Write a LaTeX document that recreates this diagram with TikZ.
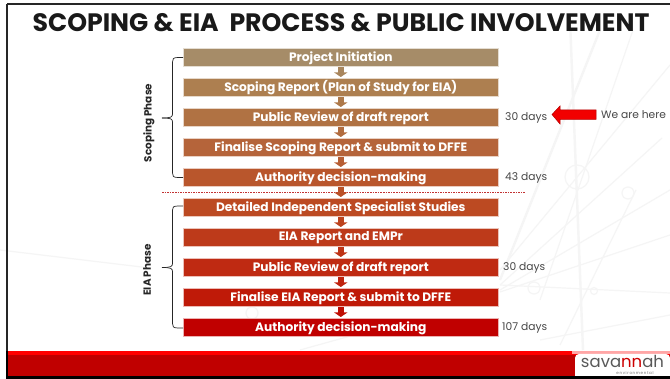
\documentclass[tikz,border=0pt]{standalone}
\usepackage{fontspec}
\setmainfont{Poppins}
\usetikzlibrary{arrows.meta}
\definecolor{cA}{HTML}{A68C68}
\definecolor{cB}{HTML}{AD7F50}
\definecolor{cC}{HTML}{B07243}
\definecolor{cD}{HTML}{B5643A}
\definecolor{cE}{HTML}{B9562C}
\definecolor{cF}{HTML}{BC4A22}
\definecolor{cG}{HTML}{BD3A1A}
\definecolor{cH}{HTML}{BF2A12}
\definecolor{cI}{HTML}{BF1A08}
\definecolor{cJ}{HTML}{C00000}
\tikzset{
 x=1pt,y=-1pt,
 stepbar/.style={minimum width=315pt,minimum height=18pt,inner sep=0pt,anchor=north west,
   text=white,font=\fontsize{12.2pt}{14pt}\selectfont\bfseries,draw=white!70!#1,line width=.6pt,fill=#1},
 dayslabel/.style={anchor=west,inner sep=0pt,font=\fontsize{10.7pt}{12pt}\selectfont,text=black!72},
 phaselabel/.style={rotate=90,inner sep=0pt,font=\fontsize{10.4pt}{12pt}\selectfont\bfseries,text=black!85},
 brace/.style={draw=black!85,line width=.7pt},
 faint/.style={draw=black!4,line width=1.2pt},
 faintthick/.style={draw=black!4,line width=2.4pt},
 flow/.style={draw=#1,line width=6.5pt,shorten >=1.5pt,-{Triangle[width=13pt,length=4.5pt]}}
}
\begin{document}
\begin{tikzpicture}
\useasboundingbox (0,0) rectangle (670,379);
\fill[white] (0,0) rectangle (670,379);
% background watermark
\draw[faintthick] (570,20) -- (583,350);
\draw[faintthick] (600,30) -- (500,280);
\draw[faint] (633,30) -- (540,300);
\draw[faint] (670,65) -- (500,270);
\draw[faint] (662,138) -- (500,285);
\draw[faint] (500,292) -- (670,235);
\draw[faint] (500,285) -- (670,293);
\draw[faint] (636,190) -- (560,345);
\draw[faint] (670,190) -- (500,290);
\draw[faint] (0,250) -- (150,268);
\draw[faint] (300,350) -- (390,325);
\draw[faint] (540,340) -- (670,315);
\draw[faint] (577,177) circle (12);
\draw[faint] (252,313) circle (6);
\draw[faint] (534,288) circle (6);
\draw[faint] (594,291) circle (3.5);
\draw[faint] (628,193) circle (6);
% frame
\draw[black!85,line width=2pt] (7,4) -- (670,4);
\draw[black!85,line width=2pt] (7,4) -- (7,376);
% title
\node[inner sep=0pt,text=black!90] (title) at (341,23) {\fontsize{25.2pt}{28pt}\selectfont\bfseries SCOPING \& EIA\ \ PROCESS \& PUBLIC INVOLVEMENT};
% bars
\node[stepbar=cA] (b1) at (183,48.5) {Project Initiation};
\node[stepbar=cB] (b2) at (183,78.5) {Scoping Report (Plan of Study for EIA)};
\node[stepbar=cC] (b3) at (183,108.5) {Public Review of draft report};
\node[stepbar=cD] (b4) at (183,138.5) {Finalise Scoping Report \& submit to DFFE};
\node[stepbar=cE] (b5) at (183,168.5) {Authority decision-making};
\node[stepbar=cF] (b6) at (183,198.5) {Detailed Independent Specialist Studies};
\node[stepbar=cG] (b7) at (183,228.5) {EIA Report and EMPr};
\node[stepbar=cH] (b8) at (183,258.5) {Public Review of draft report};
\node[stepbar=cI] (b9) at (183,288.5) {Finalise EIA Report \& submit to DFFE};
\node[stepbar=cJ] (b10) at (183,318.5) {Authority decision-making};
% divider
\draw[red!70!black!80,dash pattern=on 1.6pt off 1pt,line width=.5pt] (162,192.5) -- (525,192.5);
% flow arrows
\draw[flow=cA!55!cB] (b1.south) -- (b2.north);
\draw[flow=cB!55!cC] (b2.south) -- (b3.north);
\draw[flow=cC!55!cD] (b3.south) -- (b4.north);
\draw[flow=cD!55!cE] (b4.south) -- (b5.north);
\draw[flow=cE!55!cF] (b5.south) -- (b6.north);
\draw[flow=cF!55!cG] (b6.south) -- (b7.north);
\draw[flow=cG!55!cH] (b7.south) -- (b8.north);
\draw[flow=cH!55!cI] (b8.south) -- (b9.north);
\draw[flow=cI!55!cJ] (b9.south) -- (b10.north);
% braces
\coordinate (s1) at (183,57.5);
\coordinate (s2) at (183,177.5);
\coordinate (e1) at (183,206);
\coordinate (e2) at (183,328);
\coordinate (sm) at (162,118);
\coordinate (em) at (162,267.5);
\draw[brace] (s1) -- (178,57.5) .. controls (173,57.5) and (172.5,59) .. (172.5,62) -- (172.5,114) .. controls (172.5,117) and (171,118) .. (sm);
\draw[brace] (s2) -- (178,177.5) .. controls (173,177.5) and (172.5,176) .. (172.5,173) -- (172.5,122) .. controls (172.5,119) and (171,118) .. (sm);
\draw[brace] (e1) -- (178,206) .. controls (173,206) and (172.5,207.5) .. (172.5,210) -- (172.5,263.5) .. controls (172.5,266.5) and (171,267.5) .. (em);
\draw[brace] (e2) -- (178,328) .. controls (173,328) and (172.5,326.5) .. (172.5,323.5) -- (172.5,271.5) .. controls (172.5,268.5) and (171,267.5) .. (em);
\node[phaselabel] (sp) at (149,123) {Scoping Phase};
\node[phaselabel] (ep) at (147,270) {EIA Phase};
% durations
\node[dayslabel] (d1) at (505,117.5) {30 days};
\node[dayslabel] (d2) at (505,178) {43 days};
\node[dayslabel] (d3) at (503,268) {30 days};
\node[dayslabel] (d4) at (502,328) {107 days};
\node[dayslabel] (here) at (601,115) {We are here};
\fill[red!95!black,draw=red!70!black,line width=.5pt] (596,110) -- (560,110) -- (560,106) -- (552,114.5) -- (560,124) -- (560,119.5) -- (596,119.5) -- cycle;
% footer
\fill[red] (8,351) rectangle (670,355);
\fill[cJ] (8,355) rectangle (670,376);
\fill[black] (6,351) rectangle (8,379);
% logo
\fill[red!35!white] (572,351) rectangle (670,354);
\fill[white,rounded corners=4pt] (575,354) -- (670,354) -- (670,380) -- (575,380) -- cycle;
\node[anchor=base,inner sep=0pt,text=black!65,font=\fontsize{16.5pt}{18pt}\selectfont] (logo) at (622.5,368) {sava{\color{red!80!black}nn}ah};
\node[anchor=base,inner sep=0pt,text=black!55,font=\fontsize{4pt}{4.5pt}\selectfont] (logo2) at (635,375) {e\,n\,v\,i\,r\,o\,n\,m\,e\,n\,t\,a\,l};
\fill[black] (6,376.5) rectangle (670,379);
\end{tikzpicture}
\end{document}
